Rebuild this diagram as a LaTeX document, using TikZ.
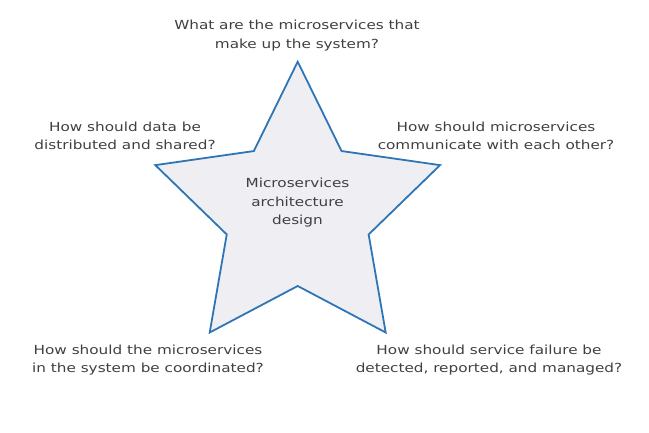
\documentclass[tikz,border=0pt]{standalone}
\usepackage{fontspec}
\setmainfont{DejaVu Sans}[FakeStretch=1.22]
\usetikzlibrary{calc}
\definecolor{starblue}{HTML}{2E75B6}
\definecolor{starfill}{HTML}{EFEFF3}
\definecolor{textgray}{HTML}{404040}
\tikzset{
  question/.style={align=center, text=textgray, font=\fontsize{12.5}{18.5}\selectfont},
  starline/.style={draw=starblue, fill=starfill, line width=1.8pt, line join=miter}
}
\begin{document}
\begin{tikzpicture}[x=1pt,y=1pt]
\useasboundingbox (0,0) rectangle (649,432);
\coordinate (c) at (297.7,220.6);
% star points, outer and inner
\foreach \i in {0,...,9}
{   \pgfmathsetmacro{\rad}{mod(\i,2)==0 ? 149.7 : 74.6}
    \coordinate (s\i) at ($(c)+({90+36*\i}:\rad)$);
}
\draw[starline] (s0) \foreach \i in {1,...,9} {-- (s\i)} -- cycle;
\node[question] (core) at (297.5,229) {Microservices\\architecture\\design};
\node[question] (top) at (297,396.5) {What are the microservices that\\make up the system?};
\node[question] (data) at (125,296) {How should data be\\distributed and shared?};
\node[question] (comm) at (496,296) {How should microservices\\communicate with each other?};
\node[question] (coord) at (148,72) {How should the microservices\\in the system be coordinated?};
\node[question] (fail) at (489,72) {How should service failure be\\detected, reported, and managed?};
\end{tikzpicture}
\end{document}
